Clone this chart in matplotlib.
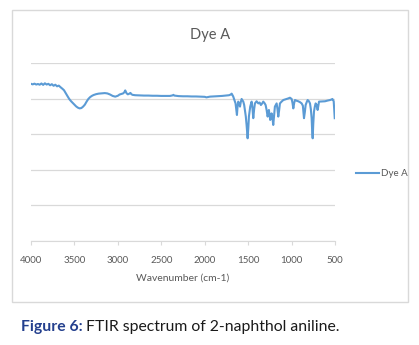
import matplotlib
matplotlib.use("Agg")
import matplotlib.pyplot as plt
from matplotlib.patches import Rectangle

# FTIR spectrum of Dye A (transmittance, arbitrary scale)
wavenumber = [
    4000, 3980, 3960, 3940, 3920, 3900, 3880, 3860, 3840, 3820,
    3800, 3780, 3760, 3740, 3720, 3700, 3680, 3660, 3640, 3620,
    3600, 3580, 3560, 3540, 3520, 3500, 3480, 3460, 3440, 3420,
    3400, 3380, 3360, 3340, 3320, 3300, 3280, 3250, 3220, 3180,
    3150, 3120, 3090, 3060, 3030, 3000, 2980, 2960, 2940, 2925,
    2915, 2900, 2885, 2870, 2855, 2845, 2830, 2800, 2760, 2700,
    2650, 2600, 2550, 2500, 2450, 2400, 2370, 2360, 2350, 2300,
    2250, 2200, 2150, 2100, 2050, 2000, 1980, 1960, 1940, 1900,
    1850, 1800,
    1760, 1720, 1700, 1690, 1672, 1660, 1645, 1637, 1629, 1622,
    1614, 1604, 1594, 1585, 1575, 1565, 1556, 1546, 1537, 1527,
    1518, 1506, 1498, 1491, 1476, 1468, 1460, 1450, 1441, 1431,
    1422, 1403, 1383, 1368, 1353, 1340, 1326, 1312, 1299, 1287,
    1276, 1268, 1261, 1254, 1246, 1238, 1230, 1220, 1211, 1200,
    1192, 1172, 1162, 1153, 1143, 1134, 1115, 1095, 1076, 1057,
    1038, 1019, 999, 989, 980, 970, 961, 942, 923, 903,
    884, 870, 857, 847, 838, 826, 815, 800, 788, 778,
    769, 763, 757, 750, 742, 732, 723, 712, 700, 692,
    684, 650, 615, 585, 557, 540, 530, 515, 503,
]
transmittance = [
    88.3, 88.0, 88.4, 87.9, 88.2, 87.8, 88.5, 87.7, 88.6, 87.9,
    88.3, 87.5, 88.1, 87.2, 87.8, 86.9, 87.3, 86.4, 85.6, 84.7,
    83.0, 81.4, 79.8, 78.6, 77.6, 76.6, 75.6, 74.9, 74.5, 74.7,
    75.5, 76.6, 78.3, 79.8, 80.8, 81.5, 82.0, 82.5, 82.8, 83.0,
    83.1, 82.9, 82.3, 81.5, 81.1, 81.6, 82.3, 82.6, 82.9, 83.6,
    84.6, 83.0, 82.4, 82.7, 83.2, 82.5, 82.1, 81.9, 81.8, 81.7,
    81.7, 81.6, 81.6, 81.5, 81.5, 81.5, 81.8, 82.1, 81.7, 81.4,
    81.3, 81.3, 81.2, 81.2, 81.1, 81.0, 80.7, 80.9, 81.1, 81.2,
    81.3, 81.5,
    81.7, 81.9, 82.3, 82.8, 81.2, 79.5, 77.3, 74.0, 70.8, 75.5,
    78.3, 77.0, 75.5, 78.0, 79.8, 79.0, 78.3, 76.5, 73.6, 70.0,
    65.2, 57.7, 63.5, 70.0, 75.5, 77.0, 78.3, 74.5, 69.0, 74.0,
    77.3, 78.5, 77.3, 77.8, 76.4, 77.2, 78.3, 77.5, 76.4, 73.5,
    69.9, 71.5, 73.6, 71.0, 68.0, 69.5, 71.7, 69.0, 65.2, 71.0,
    75.5, 77.3, 74.0, 69.9, 73.5, 77.3, 78.3, 79.2, 79.5, 79.8,
    80.1, 80.5, 79.8, 77.5, 74.5, 77.5, 79.2, 78.8, 78.5, 78.0,
    77.3, 76.0, 69.0, 72.5, 76.4, 78.0, 79.2, 78.5, 77.3, 74.0,
    69.0, 62.0, 57.7, 66.0, 72.7, 75.5, 77.3, 76.5, 73.6, 76.0,
    78.3, 78.4, 78.5, 78.9, 79.2, 79.5, 79.8, 78.5, 69.0,
]
x_ticks = [4000, 3500, 3000, 2500, 2000, 1500, 1000, 500]
y_grid = [0, 20, 40, 60, 80, 100]

series_name = "Dye A"
x_title = "Wavenumber (cm-1)"

plt.rcParams['font.family'] = ['Lato', 'DejaVu Sans']
text_grey = "#595959"
grid_grey = "#d9d9d9"
line_blue = "#5b9bd5"

W, H = 419, 345
fig = plt.figure(figsize=(W / 100, H / 100), dpi=100)
fig.patch.set_facecolor("white")

# chart frame
fig.patches.append(Rectangle((12 / W, 1 - 302 / H), 396 / W, 292 / H,
                             transform=fig.transFigure, fill=False,
                             edgecolor=grid_grey, linewidth=1.0))

ax = fig.add_axes([31 / W, 1 - 241 / H, 304 / W, 178 / H])
ax.plot(wavenumber, transmittance, color=line_blue, linewidth=1.5, label=series_name)
ax.set_xlim(4000, 500)
ax.set_ylim(0, 100)
ax.set_xticks(x_ticks)
ax.set_xticklabels([str(t) for t in x_ticks], fontsize=7, color=text_grey)
ax.set_yticks(y_grid)
ax.tick_params(axis='y', left=False, labelleft=False)
ax.tick_params(axis='x', direction='out', length=3, color=grid_grey, pad=8)
ax.grid(axis='y', color=grid_grey, linewidth=0.9)
ax.set_axisbelow(True)
for side in ['top', 'right', 'left']:
    ax.spines[side].set_visible(False)
ax.spines['bottom'].set_color(grid_grey)
ax.set_xlabel(x_title, fontsize=7.5, color=text_grey, labelpad=6)

fig.text(210 / W, 1 - 35 / H, series_name, fontsize=10.5, color=text_grey,
         ha='center', va='center')

fig.legend(loc='center left', bbox_to_anchor=(352 / W, 1 - 174 / H),
           frameon=False, fontsize=7, labelcolor=text_grey,
           handlelength=2.4, handletextpad=0.2, borderaxespad=0)

# caption: bold blue label followed by plain text
cap_y = 1 - 327 / H
lbl = fig.text(21 / W, cap_y, "Figure 6:", fontsize=11.3, fontweight='bold',
               color="#24408e", va='center')
fig.canvas.draw()
bb = lbl.get_window_extent()
fig.text((bb.x1 + 3) / W, cap_y, "FTIR spectrum of 2-naphthol aniline.",
         fontsize=11.3, color="#1a1a1a", va='center')

fig.savefig("out.png", dpi=100)
